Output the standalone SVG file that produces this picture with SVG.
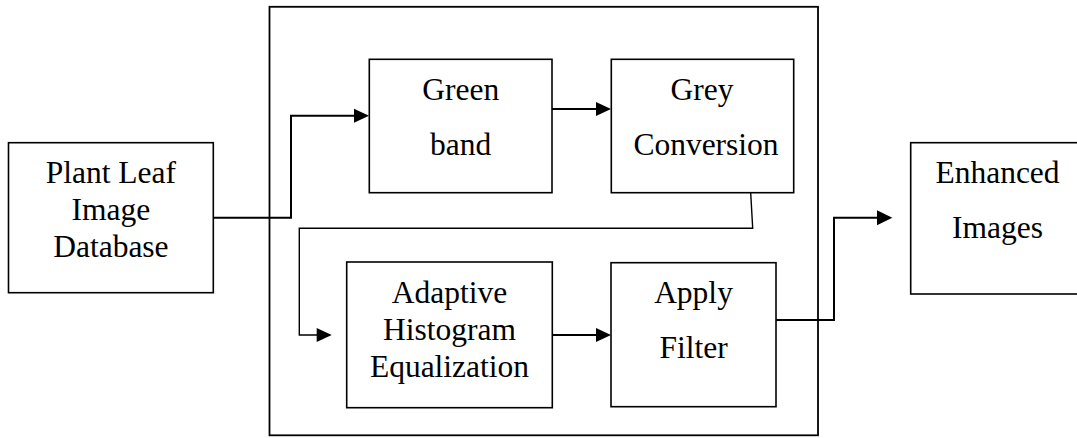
<svg xmlns="http://www.w3.org/2000/svg" width="1077" height="438" viewBox="0 0 1077 438">
<style>
.box{fill:none;stroke:#000;stroke-width:1.6}
.outer{fill:none;stroke:#000;stroke-width:1.8}
.t{font-family:"Liberation Serif","Times New Roman",serif;font-size:31.5px;fill:#000;text-anchor:middle}
.c{fill:none;stroke:#000;stroke-width:2}
.c2{fill:none;stroke:#000;stroke-width:1.4}
.ah{fill:#000;stroke:none}
</style>
<rect width="1077" height="438" fill="#fff"/>
<g id="container"><rect class="outer" x="269.5" y="6.8" width="548.5" height="428.5"/></g>
<g id="connectors">
<polyline class="c" points="213.5,217.7 291,217.7 291,115.7 354,115.7"/>
<polygon class="ah" points="369,115.7 354,108.7 354,122.7"/>
<line class="c" x1="552" y1="109" x2="596" y2="109"/>
<polygon class="ah" points="611,109 596,102 596,116"/>
<polyline class="c2" points="750.7,193 752.7,228.3 299.3,228.3 299.3,335 317,335"/>
<polygon class="ah" points="331.7,335 316.7,328 316.7,342"/>
<line class="c" x1="552.3" y1="335" x2="596" y2="335"/>
<polygon class="ah" points="611,335 596,328 596,342"/>
<polyline class="c" points="776,320 834,320 834,217.7 877,217.7"/>
<polygon class="ah" points="892.3,217.7 877,210.2 877,225.2"/>
</g>
<g id="plant-leaf">
<rect class="box" x="8.5" y="142.7" width="204.8" height="150"/>
<text class="t" x="110.9" y="182.7">Plant Leaf</text>
<text class="t" x="110.9" y="220">Image</text>
<text class="t" x="110.9" y="256.7">Database</text>
</g>
<g id="green-band">
<rect class="box" x="369.3" y="59.3" width="182.7" height="133.4"/>
<text class="t" x="460.7" y="100">Green</text>
<text class="t" x="460.7" y="155">band</text>
</g>
<g id="grey-conversion">
<rect class="box" x="611.3" y="59.3" width="182.4" height="133.4"/>
<text class="t" x="702" y="100">Grey</text>
<text class="t" x="706" y="155">Conversion</text>
</g>
<g id="adaptive-he">
<rect class="box" x="346.7" y="262" width="205.6" height="145.7"/>
<text class="t" x="449.5" y="303.3">Adaptive</text>
<text class="t" x="449.5" y="340">Histogram</text>
<text class="t" x="449.5" y="376.7">Equalization</text>
</g>
<g id="apply-filter">
<rect class="box" x="611" y="262.7" width="165" height="144"/>
<text class="t" x="693.5" y="303.3">Apply</text>
<text class="t" x="693.5" y="357.7">Filter</text>
</g>
<g id="enhanced-images">
<rect class="box" x="910.7" y="142.7" width="175" height="151.3"/>
<text class="t" x="997.5" y="182.7">Enhanced</text>
<text class="t" x="997.5" y="238.3">Images</text>
</g>
</svg>
